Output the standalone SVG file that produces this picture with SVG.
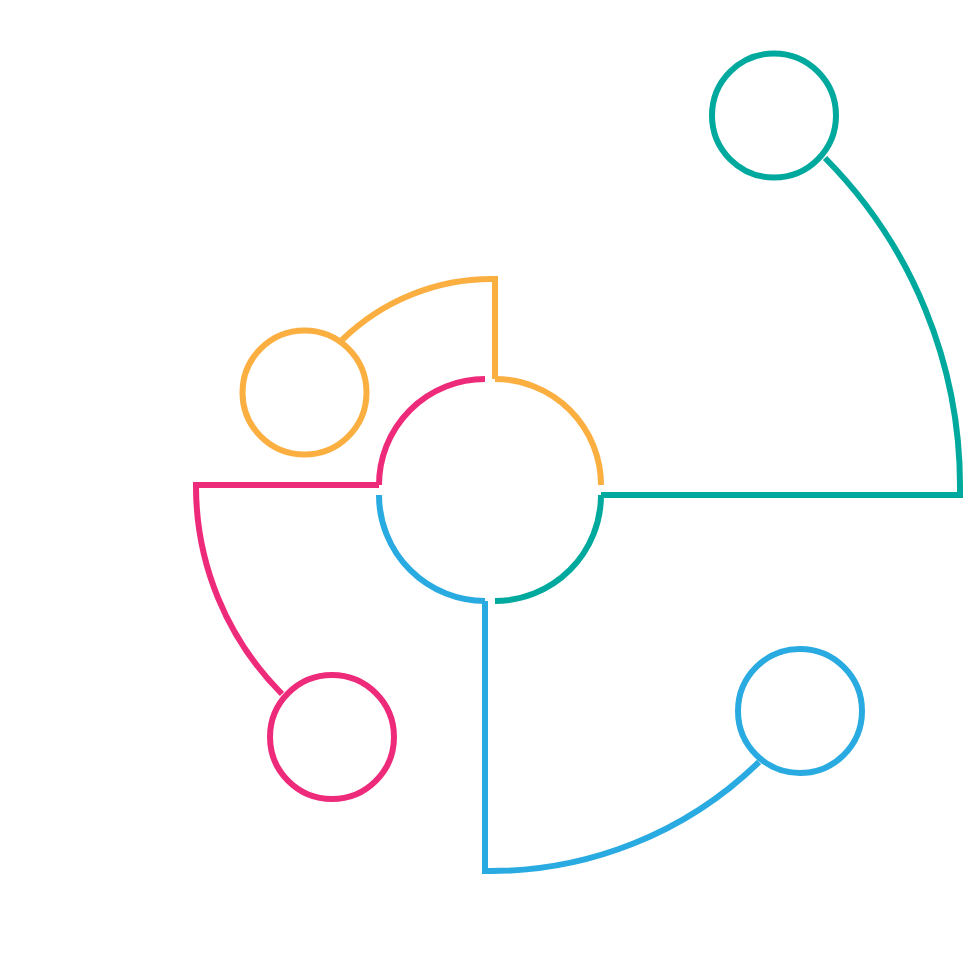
<svg xmlns="http://www.w3.org/2000/svg" width="980" height="980" viewBox="0 0 980 980">
<style>
.s{fill:none;stroke-width:6;stroke-linejoin:miter;stroke-linecap:butt}
.o{stroke:#FBAF41}.p{stroke:#EE2A7B}.t{stroke:#00A99D}.b{stroke:#29ABE2}
</style>
<rect width="980" height="980" fill="#FFFFFF"/>
<g id="center">
<path class="s p" d="M485,379 A106,106 0 0 0 379,485"/>
<path class="s o" d="M601,485 A106,106 0 0 0 495,379"/>
<path class="s t" d="M495,601 A106,106 0 0 0 601,495"/>
<path class="s b" d="M379,495 A106,106 0 0 0 485,601"/>
</g>
<g id="connectors">
<path class="s o" d="M495,379 V279 A214,214 0 0 0 342,340"/>
<path class="s t" d="M601,495 H960 V488 A465,465 0 0 0 825,158"/>
<path class="s p" d="M379,485 H196 A294,294 0 0 0 282,694"/>
<path class="s b" d="M485,601 V871 A385,385 0 0 0 759,762"/>
</g>
<g id="node-orange"><circle class="s o" cx="304.5" cy="392.5" r="62"/></g>
<g id="node-teal"><circle class="s t" cx="774" cy="115.5" r="62"/></g>
<g id="node-pink"><circle class="s p" cx="332" cy="737" r="62"/></g>
<g id="node-blue"><circle class="s b" cx="800" cy="711" r="62"/></g>
</svg>
